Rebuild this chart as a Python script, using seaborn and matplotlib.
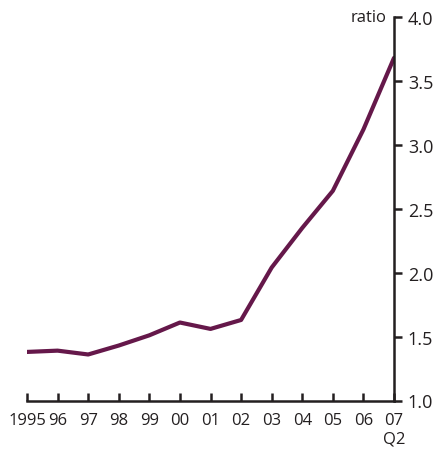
import pandas as pd
import seaborn as sns
import matplotlib.pyplot as plt

sns.set_style("ticks")
plt.rcParams['font.family'] = ['Open Sans', 'DejaVu Sans']

# chart data
periods = list(range(13))
tick_labels = ["1995", "96", "97", "98", "99", "00", "01", "02", "03", "04", "05", "06", "07\nQ2"]
ratio = [1.38, 1.39, 1.36, 1.43, 1.51, 1.61, 1.56, 1.63, 2.04, 2.35, 2.64, 3.12, 3.68]

df = pd.DataFrame({"period": periods, "ratio": ratio})

line_color = "#65184a"
axis_color = "#231f20"

fig = plt.figure(figsize=(4.38, 4.56), dpi=100)
ax = fig.add_axes([27/438, 1 - 401.5/456, (394 - 27)/438, (401.5 - 18)/456])

sns.lineplot(data=df, x="period", y="ratio", color=line_color, linewidth=3.0, ax=ax)

ax.set_xlim(0, 12)
ax.set_ylim(1.0, 4.0)
ax.set_xticks(periods)
ax.set_xticklabels(tick_labels)
ax.set_yticks([1.0, 1.5, 2.0, 2.5, 3.0, 3.5, 4.0])
ax.set_yticklabels(["1.0", "1.5", "2.0", "2.5", "3.0", "3.5", "4.0"])

ax.yaxis.tick_right()
ax.set_xlabel("")
ax.set_ylabel("")

sns.despine(ax=ax, left=True, top=True, right=False, bottom=False)
for side in ["right", "bottom"]:
    ax.spines[side].set_color(axis_color)
    ax.spines[side].set_linewidth(1.8)

ax.tick_params(axis="x", direction="in", length=6, width=1.8, colors=axis_color,
               labelsize=12, pad=8)
ax.tick_params(axis="y", direction="out", length=6, width=1.8, colors=axis_color,
               labelsize=13, pad=4, right=True, left=False)

ax.text(0.98, 4.0, "ratio", transform=ax.get_yaxis_transform(), ha="right", va="center",
        fontsize=12, color=axis_color)

fig.savefig("out.png", dpi=100)
